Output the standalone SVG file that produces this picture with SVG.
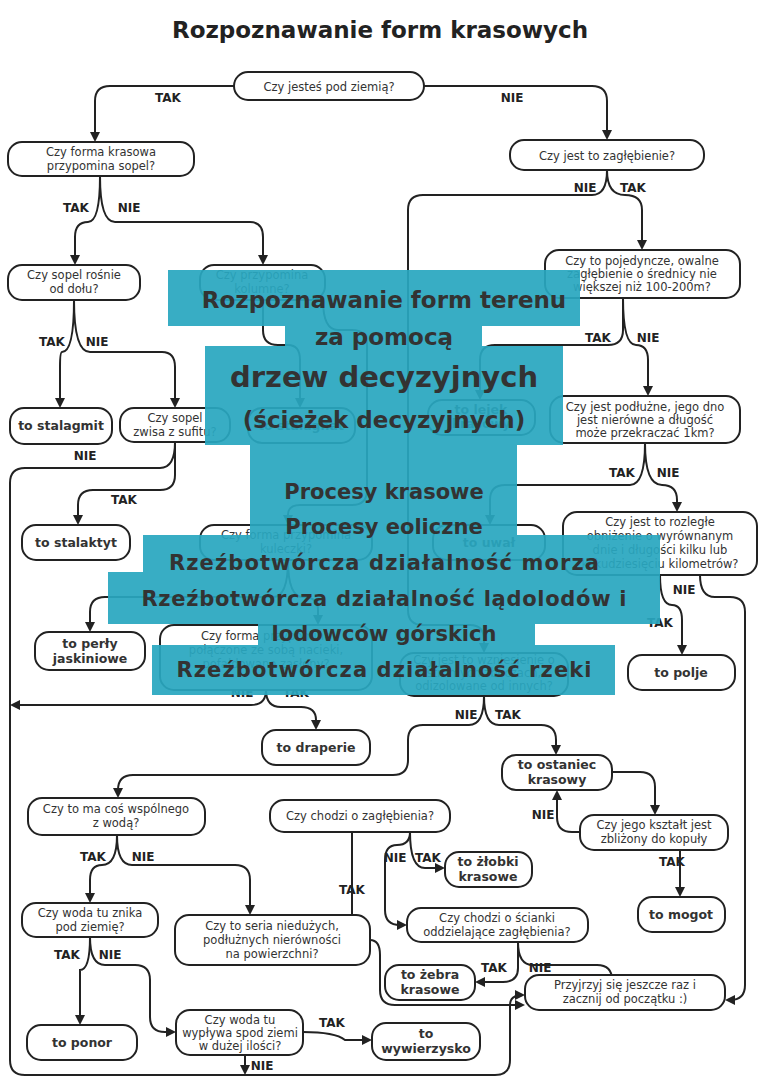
<svg xmlns="http://www.w3.org/2000/svg" width="768" height="1086" viewBox="0 0 768 1086">
<defs>
<marker id="a" viewBox="0 0 10 10" refX="8" refY="5" markerWidth="5" markerHeight="5" orient="auto"><path d="M0,0L10,5L0,10z" fill="#222"/></marker>
<style>
.n rect{fill:#fff;stroke:#222;stroke-width:2}
.n text{font-family:"DejaVu Sans",sans-serif;font-size:11.5px;fill:#333;text-anchor:middle}
.n text.b{font-weight:bold;font-size:12.5px}
.c path{fill:none;stroke:#222;stroke-width:2;marker-end:url(#a)}
.l{font-family:"DejaVu Sans",sans-serif;font-weight:bold;font-size:12px;fill:#222;text-anchor:middle}
.o rect{fill:#29a7bf;opacity:.93}
.o text{font-family:"DejaVu Sans",sans-serif;font-weight:bold;fill:#333;text-anchor:middle}
</style>
</defs>
<rect width="768" height="1086" fill="#fff"/>
<text x="380" y="38" font-family="DejaVu Sans,sans-serif" font-weight="bold" font-size="23" fill="#222" text-anchor="middle">Rozpoznawanie form krasowych</text>
<g class="c">
<path d="M234,86H110Q95,86 95,101V140"/>
<path d="M424,86H592Q607,86 607,101V138"/>
<path d="M100,176Q100,222 88,222Q75,222 75,237V263"/>
<path d="M100,176Q100,222 115,222H250Q263,222 263,237V263"/>
<path d="M607,170Q607,195 592,195H423Q408,195 408,210V610Q408,625 423,625H470Q484,625 484,640V651"/>
<path d="M607,170Q607,195 625,195Q642,195 642,210V248"/>
<path d="M74,300Q74,352 62,352Q60,352 60,367V406"/>
<path d="M74,300Q74,352 90,352H162Q175,352 175,367V406"/>
<path d="M263,300V330Q263,345 278,345H288Q300,345 300,360V406"/>
<path d="M323,300Q323,330 338,330H352Q367,330 367,345V490Q367,505 352,505H300Q288,505 288,515V523"/>
<path d="M623,298V330Q623,345 608,345H495Q480,345 480,360V398"/>
<path d="M623,298Q623,345 636,345Q648,345 648,360V394"/>
<path d="M645,443Q645,485 630,485H505Q490,485 490,500V523"/>
<path d="M645,443Q645,485 662,485Q677,485 677,500V510"/>
<path d="M660,575Q660,605 672,605Q682,605 682,620V653"/>
<path d="M700,575Q700,597 715,597H730Q745,597 745,612V985Q745,1000 730,1000H727"/>
<path d="M175,442V475Q175,490 160,490H93Q78,490 78,505V523"/>
<path d="M175,442Q175,468 160,468H25Q10,468 10,483V1060Q10,1075 25,1075H495Q510,1075 510,1060V1005Q510,995 523,995"/>
<path d="M288,560Q288,597 273,597H105Q90,597 90,612V630"/>
<path d="M288,560Q288,597 303,597Q318,597 318,610V623"/>
<path d="M266,690Q266,705 251,705H12"/>
<path d="M266,690Q266,707 281,707H301Q316,707 316,720V728"/>
<path d="M484,696Q484,725 469,725H423Q408,725 408,740V760Q408,775 393,775H133Q118,775 118,790V796"/>
<path d="M484,696Q484,725 499,725H541Q556,725 556,740V753"/>
<path d="M612,772H640Q655,772 655,787V813"/>
<path d="M580,832H572Q557,832 557,817V792"/>
<path d="M680,850V895"/>
<path d="M117,835Q117,865 102,865Q90,865 90,880V901"/>
<path d="M117,835Q117,865 132,865H235Q250,865 250,880V913"/>
<path d="M90,937Q90,970 80,970V1023"/>
<path d="M90,937Q90,965 105,965H135Q150,965 150,980V1017Q150,1032 165,1032H174"/>
<path d="M303,1032Q335,1032 345,1040H370"/>
<path d="M245,1055V1073"/>
<path d="M370,940Q352,940 352,925V803"/>
<path d="M370,940Q380,940 380,955V990Q380,1005 395,1005H523"/>
<path d="M410,832Q410,845 397,845Q385,845 385,860V910Q385,925 400,925H405"/>
<path d="M410,832Q410,868 425,868H443"/>
<path d="M518,942V968Q518,982 503,982H477"/>
<path d="M518,942Q518,965 533,965H597Q612,965 612,980V985"/>
</g>
<g class="l">
<text x="168" y="102">TAK</text><text x="512" y="102">NIE</text>
<text x="76" y="212">TAK</text><text x="129" y="212">NIE</text>
<text x="585" y="192">NIE</text><text x="633" y="192">TAK</text>
<text x="52" y="346">TAK</text><text x="97" y="346">NIE</text>
<text x="598" y="342">TAK</text><text x="648" y="342">NIE</text>
<text x="622" y="477">TAK</text><text x="668" y="477">NIE</text>
<text x="85" y="460">NIE</text><text x="124" y="504">TAK</text>
<text x="684" y="594">NIE</text><text x="660" y="627">TAK</text>
<text x="242" y="697">NIE</text><text x="296" y="697">TAK</text>
<text x="466" y="719">NIE</text><text x="508" y="719">TAK</text>
<text x="543" y="819">NIE</text><text x="672" y="866">TAK</text>
<text x="93" y="861">TAK</text><text x="143" y="861">NIE</text>
<text x="67" y="959">TAK</text><text x="110" y="959">NIE</text>
<text x="332" y="1027">TAK</text><text x="262" y="1070">NIE</text>
<text x="356" y="957">NIE</text><text x="352" y="894">TAK</text>
<text x="395" y="862">NIE</text><text x="428" y="862">TAK</text>
<text x="494" y="972">TAK</text><text x="540" y="972">NIE</text>
</g>
<g class="n">
<g id="n1"><rect x="234" y="72" width="190" height="28" rx="14"/><text x="329" y="91">Czy jesteś pod ziemią?</text></g>
<g id="n2"><rect x="8" y="142" width="186" height="34" rx="14"/><text x="101" y="156">Czy forma krasowa</text><text x="101" y="170">przypomina sopel?</text></g>
<g id="n3"><rect x="510" y="140" width="194" height="30" rx="14"/><text x="607" y="160">Czy jest to zagłębienie?</text></g>
<g id="n4"><rect x="8" y="265" width="132" height="35" rx="14"/><text x="74" y="279">Czy sopel rośnie</text><text x="74" y="293">od dołu?</text></g>
<g id="n5"><rect x="200" y="265" width="125" height="35" rx="14"/><text x="262" y="279">Czy przypomina</text><text x="262" y="293">kolumnę?</text></g>
<g id="n6"><rect x="545" y="250" width="195" height="48" rx="14"/><text x="642" y="265">Czy to pojedyncze, owalne</text><text x="642" y="278">zagłębienie o średnicy nie</text><text x="642" y="291">większej niż 100-200m?</text></g>
<g id="n7"><rect x="10" y="408" width="102" height="36" rx="14"/><text class="b" x="61" y="430">to stalagmit</text></g>
<g id="n8"><rect x="120" y="408" width="110" height="34" rx="14"/><text x="175" y="422">Czy sopel</text><text x="175" y="436">zwisa z sufitu?</text></g>
<g id="n9"><rect x="248" y="408" width="107" height="35" rx="14"/><text class="b" x="301" y="430">to stalagnat</text></g>
<g id="n10"><rect x="428" y="400" width="107" height="35" rx="14"/><text class="b" x="481" y="414">to lejek</text><text class="b" x="481" y="428">krasowy</text></g>
<g id="n11"><rect x="550" y="396" width="190" height="47" rx="14"/><text x="645" y="411">Czy jest podłużne, jego dno</text><text x="645" y="424">jest nierówne a długość</text><text x="645" y="437">może przekraczać 1km?</text></g>
<g id="n12"><rect x="22" y="525" width="108" height="35" rx="14"/><text class="b" x="76" y="547">to stalaktyt</text></g>
<g id="n13"><rect x="200" y="525" width="172" height="35" rx="14"/><text x="286" y="539">Czy forma przypomina</text><text x="286" y="553">kuleczki?</text></g>
<g id="n14"><rect x="433" y="525" width="112" height="35" rx="14"/><text class="b" x="489" y="547">to uwał</text></g>
<g id="n15"><rect x="563" y="512" width="194" height="63" rx="14"/><text x="660" y="526">Czy jest to rozległe</text><text x="660" y="540">obniżenie o wyrównanym</text><text x="660" y="554">dnie i długości kilku lub</text><text x="660" y="568">kilkudziesięciu kilometrów?</text></g>
<g id="n16"><rect x="35" y="632" width="110" height="38" rx="14"/><text class="b" x="90" y="648">to perły</text><text class="b" x="90" y="663">jaskiniowe</text></g>
<g id="n17"><rect x="160" y="625" width="212" height="65" rx="14"/><text x="266" y="640">Czy forma przypomina</text><text x="266" y="654">połączone ze sobą nacieki,</text><text x="266" y="668">pofałdowane zasłony?</text></g>
<g id="n18"><rect x="400" y="653" width="168" height="43" rx="14"/><text x="484" y="664">Czy jest to wzniesienie o</text><text x="484" y="677">stromych zboczach,</text><text x="484" y="690">odizolowane od innych?</text></g>
<g id="n19"><rect x="628" y="655" width="107" height="35" rx="14"/><text class="b" x="681" y="677">to polje</text></g>
<g id="n20"><rect x="262" y="730" width="108" height="35" rx="14"/><text class="b" x="316" y="752">to draperie</text></g>
<g id="n21"><rect x="502" y="755" width="110" height="35" rx="14"/><text class="b" x="557" y="769">to ostaniec</text><text class="b" x="557" y="784">krasowy</text></g>
<g id="n22"><rect x="28" y="798" width="177" height="37" rx="14"/><text x="116" y="813">Czy to ma coś wspólnego</text><text x="116" y="827">z wodą?</text></g>
<g id="n23"><rect x="270" y="800" width="180" height="32" rx="14"/><text x="360" y="820">Czy chodzi o zagłębienia?</text></g>
<g id="n24"><rect x="580" y="815" width="148" height="35" rx="14"/><text x="654" y="829">Czy jego kształt jest</text><text x="654" y="843">zbliżony do kopuły</text></g>
<g id="n25"><rect x="445" y="852" width="87" height="35" rx="14"/><text class="b" x="488" y="866">to żłobki</text><text class="b" x="488" y="881">krasowe</text></g>
<g id="n26"><rect x="22" y="903" width="136" height="34" rx="14"/><text x="90" y="917">Czy woda tu znika</text><text x="90" y="931">pod ziemię?</text></g>
<g id="n27"><rect x="175" y="915" width="195" height="50" rx="14"/><text x="272" y="930">Czy to seria niedużych,</text><text x="272" y="944">podłużnych nierówności</text><text x="272" y="958">na powierzchni?</text></g>
<g id="n28"><rect x="407" y="908" width="181" height="34" rx="14"/><text x="497" y="922">Czy chodzi o ścianki</text><text x="497" y="936">oddzielające zagłębienia?</text></g>
<g id="n29"><rect x="638" y="897" width="87" height="35" rx="14"/><text class="b" x="681" y="919">to mogot</text></g>
<g id="n30"><rect x="385" y="965" width="90" height="35" rx="14"/><text class="b" x="430" y="979">to żebra</text><text class="b" x="430" y="994">krasowe</text></g>
<g id="n31"><rect x="525" y="975" width="200" height="35" rx="14"/><text x="625" y="989">Przyjrzyj się jeszcze raz i</text><text x="625" y="1003">zacznij od początku :)</text></g>
<g id="n32"><rect x="27" y="1025" width="110" height="35" rx="14"/><text class="b" x="82" y="1047">to ponor</text></g>
<g id="n33"><rect x="176" y="1010" width="127" height="45" rx="14"/><text x="240" y="1024">Czy woda tu</text><text x="240" y="1037">wypływa spod ziemi</text><text x="240" y="1050">w dużej ilości?</text></g>
<g id="n34"><rect x="372" y="1023" width="108" height="37" rx="14"/><text class="b" x="426" y="1038">to</text><text class="b" x="426" y="1053">wywierzysko</text></g>
</g>
<g class="o">
<rect x="168" y="270" width="412" height="56"/>
<rect x="285" y="326" width="197" height="20"/>
<rect x="205" y="346" width="358" height="99"/>
<rect x="250" y="445" width="267" height="90"/>
<rect x="143" y="535" width="517" height="37"/>
<rect x="108" y="572" width="552" height="52"/>
<rect x="258" y="624" width="277" height="21"/>
<rect x="152" y="645" width="463" height="50"/>
<text x="384" y="308" font-size="23">Rozpoznawanie form terenu</text>
<text x="384" y="345" font-size="23">za pomocą</text>
<text x="384" y="387" font-size="29">drzew decyzyjnych</text>
<text x="384" y="428" font-size="23">(ścieżek decyzyjnych)</text>
<text x="384" y="499" font-size="21">Procesy krasowe</text>
<text x="384" y="534" font-size="21">Procesy eoliczne</text>
<text x="384" y="570" font-size="21" textLength="430">Rzeźbotwórcza działalność morza</text>
<text x="384" y="606" font-size="21" textLength="485">Rzeźbotwórcza działalność lądolodów i</text>
<text x="384" y="641" font-size="21">lodowców górskich</text>
<text x="384" y="677" font-size="21" textLength="415">Rzeźbotwórcza działalność rzeki</text>
</g>
</svg>
